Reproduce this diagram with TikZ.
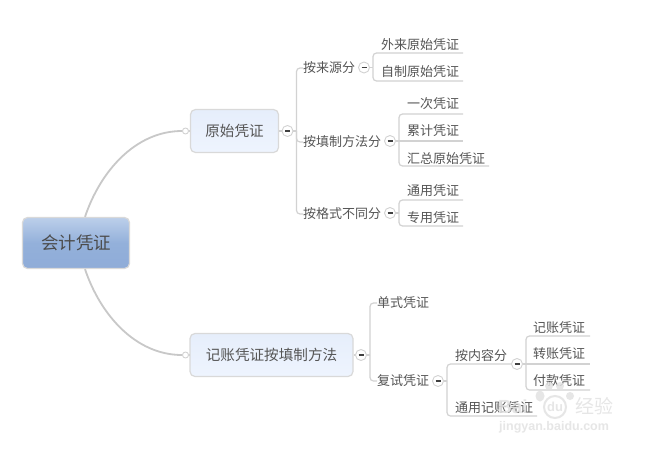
\documentclass[tikz,border=0pt]{standalone}
\usepackage{fontspec}
\usetikzlibrary{shapes.geometric}
\setmainfont{Noto Sans CJK SC}
\newfontfamily\wmfont{Liberation Sans}
\definecolor{inktxt}{HTML}{555555}
\definecolor{linec}{HTML}{D2D2D2}
\definecolor{curvec}{HTML}{C8C8C8}
\definecolor{wmc}{HTML}{E2E2E2}
\definecolor{HeadTop}{HTML}{BCCFEA}
\definecolor{HeadMid}{HTML}{93B0DA}
\definecolor{HeadBot}{HTML}{8FACD8}
\definecolor{SubTop}{HTML}{E6EEFB}
\definecolor{SubBot}{HTML}{EEF4FE}
\tikzset{
  x=1pt,y=-1pt,
  conn/.style={draw=linec,line width=1.2pt},
  branch/.style={conn,rounded corners=3.5pt},
  curve/.style={draw=curvec,line width=1.8pt},
  lbl/.style={inner sep=0pt,text=inktxt,font=\fontsize{13}{13}\selectfont,anchor=west,yshift=-1pt},
  rootbox/.style={draw=black!15,line width=1.2pt,rounded corners=5pt,top color=HeadTop,bottom color=HeadBot,middle color=HeadMid,inner sep=0pt,minimum width=107pt,minimum height=51pt,text=black!70,font=\fontsize{17.5}{17.5}\selectfont},
  subbox/.style={draw=black!15,line width=1.2pt,rounded corners=5pt,top color=SubTop,bottom color=SubBot,inner sep=0pt,minimum height=43pt,text=inktxt,font=\fontsize{14.6}{14.6}\selectfont},
  minusc/.style={circle,draw=linec,fill=white,line width=.9pt,minimum size=11pt,inner sep=0pt,path picture={\draw[black!75,line width=1.2pt] ([xshift=-2.5pt]path picture bounding box.center) -- ([xshift=2.5pt]path picture bounding box.center);}},
  openc/.style={circle,draw=linec,fill=white,line width=.9pt,minimum size=6pt,inner sep=0pt},
  wmpaw/.style={fill=wmc,draw=none},
  wmtxt/.style={inner sep=0pt,text=wmc}
}
\begin{document}
\begin{tikzpicture}
\useasboundingbox (0,0) rectangle (650,450);
\fill[white] (0,0) rectangle (650,450);

% main nodes
\node[rootbox] (root) at (76,243) {会计凭证};
\node[subbox,minimum width=88pt] (yuan) at (234.5,131) {原始凭证};
\node[subbox,minimum width=163pt] (jizh) at (271.5,355) {记账凭证按填制方法};
\node[openc] (oa) at (185.5,131) {};
\node[openc] (ob) at (185.5,355) {};
\node[minusc] (ma) at (287.5,131) {};
\node[minusc] (mb) at (361,355) {};

% top branch labels
\node[lbl] (a1) at (303,67) {按来源分};
\node[lbl] (a2) at (303,141) {按填制方法分};
\node[lbl] (a3) at (303,213) {按格式不同分};
\node[minusc] (ma1) at (364,67.5) {};
\node[minusc] (ma2) at (390,141) {};
\node[minusc] (ma3) at (390,213) {};

\node[lbl] (a11) at (381,44) {外来原始凭证};
\node[lbl] (a12) at (381,71) {自制原始凭证};
\node[lbl] (a21) at (407,103) {一次凭证};
\node[lbl] (a22) at (407,130) {累计凭证};
\node[lbl] (a23) at (407,158) {汇总原始凭证};
\node[lbl] (a31) at (407,190) {通用凭证};
\node[lbl] (a32) at (407,217) {专用凭证};

% bottom branch labels
\node[lbl] (b1) at (377,302) {单式凭证};
\node[lbl] (b2) at (377,380) {复试凭证};
\node[minusc] (mb2) at (438,381) {};
\node[lbl] (b21) at (455,355) {按内容分};
\node[lbl] (b22) at (455,407) {通用记账凭证};
\node[minusc] (mb21) at (517,364) {};
\node[lbl] (b211) at (533,327) {记账凭证};
\node[lbl] (b212) at (533,353) {转账凭证};
\node[lbl] (b213) at (533,380) {付款凭证};

% spines and line ends
\coordinate (sa) at (296.5,0);
\coordinate (sa1) at (373,0);
\coordinate (sa2) at (399,0);
\coordinate (sb) at (370,0);
\coordinate (sb2) at (447,0);
\coordinate (sb21) at (526,0);
\coordinate (e11) at (463,53);
\coordinate (e12) at (463,81);
\coordinate (e21) at (463,114);
\coordinate (e22) at (463,141);
\coordinate (e23) at (489,166);
\coordinate (e31) at (463,200);
\coordinate (e32) at (463,226);
\coordinate (e211) at (590,336);
\coordinate (e212) at (590,364);
\coordinate (e213) at (590,390);
\coordinate (e22b) at (537,416);

% curves from the root
\draw[curve] ([xshift=9pt]root.north) .. controls (100,172) and (135,131) .. (oa.west);
\draw[curve] ([xshift=9pt]root.south) .. controls (100,314) and (135,355) .. (ob.west);
% connectors
\draw[conn] (yuan.east) -- (ma.west);
\draw[conn] (jizh.east) -- (mb.west);
\draw[conn] (yuan.west) -- (oa.east);
\draw[conn] (jizh.west) -- (ob.east);

\draw[conn] (ma.east) -- (sa |- ma.east);
\draw[branch] (sa |- ma.east) |- (a1.west);
\draw[branch] (sa |- ma.east) |- (a2.west);
\draw[branch] (sa |- ma.east) |- (a3.west);

\draw[conn] (ma1.east) -- (sa1 |- ma1.east);
\draw[branch] (sa1 |- ma1.east) |- (e11);
\draw[branch] (sa1 |- ma1.east) |- (e12);

\draw[conn] (ma2.east) -- (sa2 |- ma2.east);
\draw[branch] (sa2 |- ma2.east) |- (e21);
\draw[conn] (sa2 |- ma2.east) -- (e22);
\draw[branch] (sa2 |- ma2.east) |- (e23);

\draw[conn] (ma3.east) -- (sa2 |- ma3.east);
\draw[branch] (sa2 |- ma3.east) |- (e31);
\draw[branch] (sa2 |- ma3.east) |- (e32);

\draw[conn] (mb.east) -- (sb |- mb.east);
\draw[branch] (sb |- mb.east) |- (b1.west);
\draw[branch] (sb |- mb.east) |- (b2.west);

\draw[conn] (mb2.east) -- (sb2 |- mb2.east);
\draw[branch] (sb2 |- mb2.east) |- (mb21.west);
\draw[branch] (sb2 |- mb2.east) |- (e22b);

\draw[conn] (mb21.east) -- (sb21 |- mb21.east);
\draw[branch] (sb21 |- mb21.east) |- (e211);
\draw[conn] (sb21 |- mb21.east) -- (e212);
\draw[branch] (sb21 |- mb21.east) |- (e213);

% watermark
\begin{scope}[opacity=.85]
\node[wmtxt,anchor=west,font=\wmfont\bfseries\fontsize{19}{19}\selectfont] (wa) at (498,407) {Bai};
\node[wmpaw,ellipse,minimum width=9pt,minimum height=11pt,inner sep=0pt] (p1) at (540,396) {};
\node[wmpaw,circle,minimum size=8pt,inner sep=0pt] (p2) at (549,386) {};
\node[wmpaw,circle,minimum size=8pt,inner sep=0pt] (p3) at (560,386) {};
\node[wmpaw,circle,minimum size=8pt,inner sep=0pt] (p4) at (570,396) {};
\node[circle,draw=wmc,line width=2pt,minimum size=22pt,inner sep=0pt,text=wmc,font=\wmfont\bfseries\fontsize{13}{13}\selectfont] (wd) at (555,407) {du};
\node[wmtxt,anchor=west,font=\fontsize{19}{19}\selectfont] (wj) at (575,406) {经验};
\node[wmtxt,anchor=west,font=\wmfont\bfseries\fontsize{12.5}{12.5}\selectfont] (wu) at (499,427) {jingyan.baidu.com};
\end{scope}
\end{tikzpicture}
\end{document}
